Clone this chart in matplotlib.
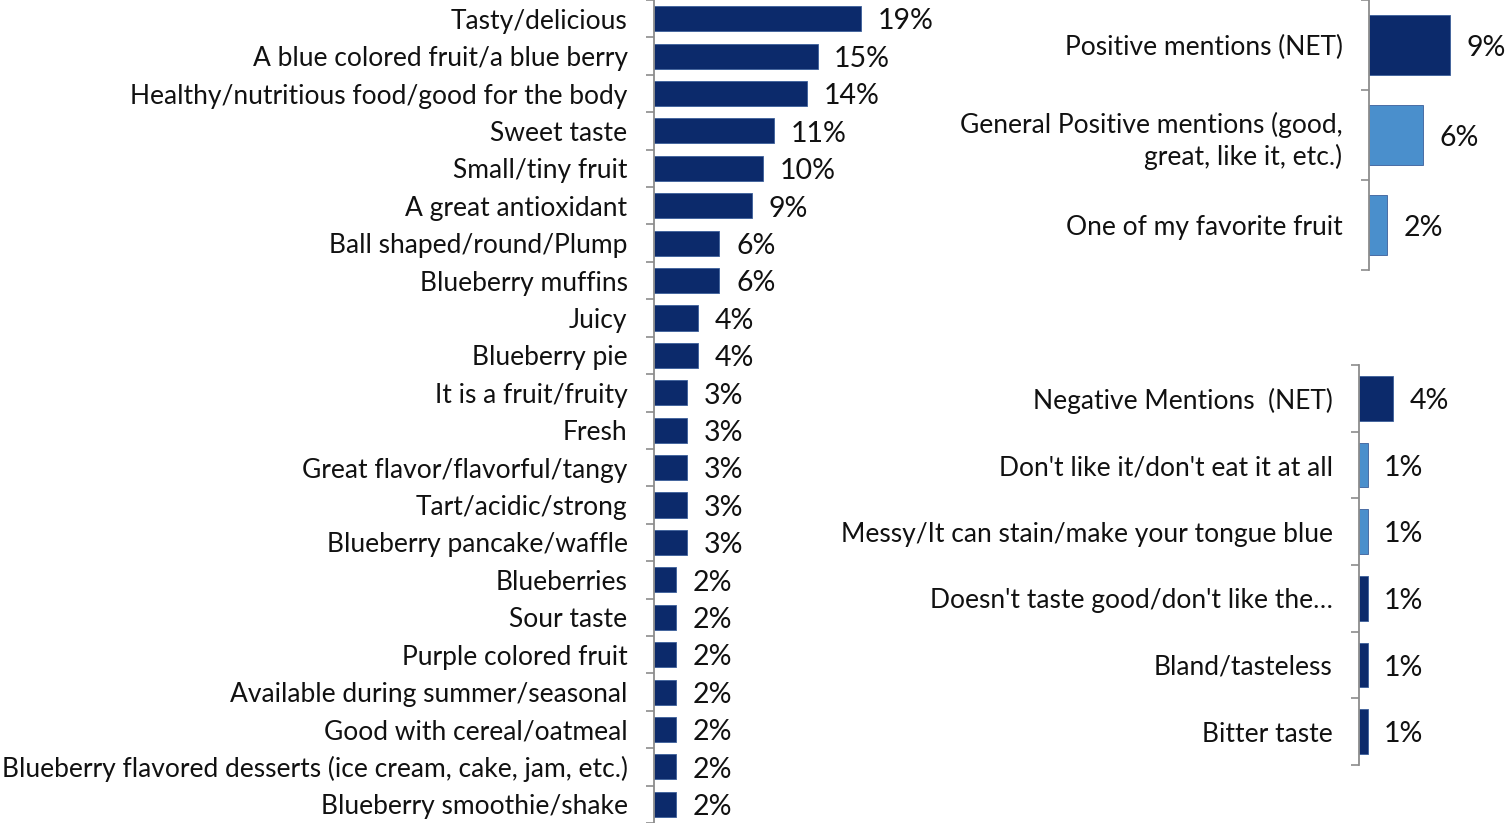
import numpy as np
import matplotlib.pyplot as plt

plt.rcParams['font.family'] = ['Lato', 'DejaVu Sans']

NAVY = '#0c2a6b'
LIGHT = '#4a8fcc'
SPINE = '#8c8c8c'

# attributes mentioned, all respondents
attributes = [
    'Tasty/delicious', 'A blue colored fruit/a blue berry',
    'Healthy/nutritious food/good for the body', 'Sweet taste',
    'Small/tiny fruit', 'A great antioxidant', 'Ball shaped/round/Plump',
    'Blueberry muffins', 'Juicy', 'Blueberry pie', 'It is a fruit/fruity',
    'Fresh', 'Great flavor/flavorful/tangy', 'Tart/acidic/strong',
    'Blueberry pancake/waffle', 'Blueberries', 'Sour taste',
    'Purple colored fruit', 'Available during summer/seasonal',
    'Good with cereal/oatmeal',
    'Blueberry flavored desserts (ice cream, cake, jam, etc.)',
    'Blueberry smoothie/shake',
]
attribute_pct = [19, 15, 14, 11, 10, 9, 6, 6, 4, 4, 3, 3, 3, 3, 3,
                 2, 2, 2, 2, 2, 2, 2]

positive_labels = ['Positive mentions (NET)',
                   'General Positive mentions (good,\ngreat, like it, etc.)',
                   'One of my favorite fruit']
positive_pct = [9, 6, 2]
positive_net = [True, False, False]

negative_labels = ['Negative Mentions  (NET)', "Don't like it/don't eat it at all",
                   'Messy/It can stain/make your tongue blue',
                   "Doesn't taste good/don't like the\u2026",
                   'Bland/tasteless', 'Bitter taste']
negative_pct = [4, 1, 1, 1, 1, 1]
negative_colors = [NAVY, LIGHT, LIGHT, NAVY, NAVY, NAVY]

W, H = 1507, 823
fig = plt.figure(figsize=(W / 100, H / 100), dpi=100)


def panel(rect, labels, values, colors, xmax, ylim, fs=19, vfs=20.5):
    ax = fig.add_axes(rect)
    n = len(values)
    y = np.arange(n)
    ax.barh(y, values, height=0.67, color=colors, edgecolor='#3b5f9a',
            linewidth=0.6)
    ax.set_xlim(0, xmax)
    ax.set_ylim(*ylim)
    ax.set_yticks(y)
    ax.set_yticklabels(labels, fontsize=fs, color='#111111')
    for lab in ax.get_yticklabels():
        lab.set_multialignment('right')
        lab.set_linespacing(1.3)
    ax.tick_params(axis='y', which='major', length=0, pad=19)
    ax.set_yticks(np.arange(n + 1) - 0.5, minor=True)
    ax.tick_params(axis='y', which='minor', length=6, width=1.2,
                   color=SPINE, direction='out')
    ax.set_xticks([])
    for side in ('top', 'right', 'bottom'):
        ax.spines[side].set_visible(False)
    ax.spines['left'].set_color(SPINE)
    ax.spines['left'].set_linewidth(1.3)
    for yi, v in zip(y, values):
        ax.annotate(f'{v}%', (v, yi), xytext=(12, -2),
                    textcoords='offset points', va='center', ha='left',
                    fontsize=vfs, color='#111111')
    ax.patch.set_alpha(0)
    return ax


# left panel: every attribute
top_i = -18 / 37.5
bot_i = (H - 18) / 37.5
panel([654 / W, 0, 218 / W, 1], attributes, attribute_pct, NAVY, 20,
      (bot_i, top_i))

# top right: positive mentions
panel([1369 / W, 1 - 270 / H, 90 / W, 270 / H], positive_labels,
      positive_pct, [NAVY if net else LIGHT for net in positive_net], 10,
      (2.5, -0.5))

# bottom right: negative mentions
panel([1359 / W, 1 - 765 / H, 85 / W, 400 / H], negative_labels,
      negative_pct, negative_colors, 10, (5.5, -0.5))

fig.savefig('out.png', dpi=100)
